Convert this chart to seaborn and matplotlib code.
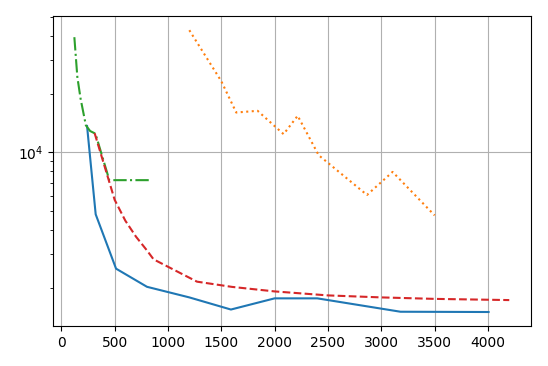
import matplotlib
matplotlib.use("Agg")
import matplotlib.pyplot as plt
import seaborn as sns

# values (log y axis)
blue_x = [241, 322, 513, 803, 1200, 1590, 2000, 2400, 3180, 4006]
blue_y = [13700, 4800, 2518, 2030, 1790, 1550, 1770, 1770, 1510, 1505]

orange_x = [1200, 1500, 1640, 1840, 2084, 2216, 2413, 2866, 3106, 3500]
orange_y = [42700, 23300, 16070, 16400, 12430, 15460, 9680, 6040, 7940, 4740]

green_x = [122, 150, 180, 230, 270, 320, 450, 830]
green_y = [39300, 24500, 19000, 13800, 12900, 12500, 7200, 7200]

red_x = [312, 500, 600, 700, 800, 865, 1272, 1600, 2000, 2500, 3000, 3500, 4200]
red_y = [12580, 5700, 4450, 3680, 3140, 2812, 2158, 2028, 1922, 1833, 1790, 1759, 1734]

fig, ax = plt.subplots(figsize=(5.48, 3.66), dpi=100)

sns.lineplot(x=blue_x, y=blue_y, ax=ax, color="tab:blue", linestyle="-")
sns.lineplot(x=orange_x, y=orange_y, ax=ax, color="tab:orange", linestyle=":")
sns.lineplot(x=green_x, y=green_y, ax=ax, color="tab:green", linestyle="-.")
sns.lineplot(x=red_x, y=red_y, ax=ax, color="tab:red", linestyle="--")

ax.set_yscale("log")
ax.set_xticks(range(0, 4001, 500))
ax.grid(True)

plt.subplots_adjust(left=0.096, right=0.969, bottom=0.109, top=0.956)
plt.savefig("out.png", dpi=100)
